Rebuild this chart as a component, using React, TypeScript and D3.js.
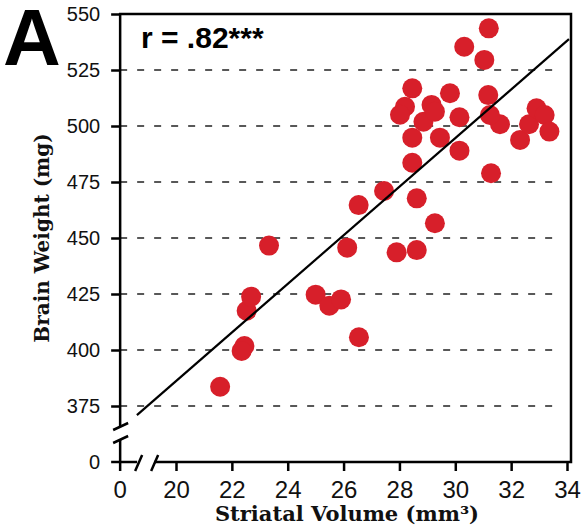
import * as d3 from "d3";
import { useRef, useEffect } from "react";

// striatal volume (mm3) and brain weight (mg), one entry per animal
const volume = [
  21.58, 22.45, 22.35, 22.53, 22.69, 23.33, 25.0, 25.49, 25.91, 26.55, 26.13,
  26.54, 27.45, 27.9, 28.62, 29.27, 28.62, 28.46, 30.15, 28.46, 29.45, 31.28,
  32.32, 32.64, 32.91, 33.2, 33.37, 31.6, 31.24, 30.15, 28.86, 29.15, 29.27,
  28.2, 28.02, 28.46, 29.81, 31.18, 31.2, 30.32, 31.04,
];
const weight = [
  383.6, 401.8, 399.6, 417.5, 423.8, 446.6, 424.7, 419.8, 422.6, 405.7, 445.7,
  464.7, 471.0, 443.6, 444.6, 456.6, 467.7, 483.6, 489.0, 494.8, 494.8, 478.9,
  493.8, 500.8, 507.9, 504.9, 497.5, 500.8, 504.9, 503.9, 501.9, 509.4, 506.4,
  508.6, 505.0, 516.8, 514.6, 513.8, 543.6, 535.4, 529.5,
];

const xTicks = [20, 22, 24, 26, 28, 30, 32, 34];
const yTicks = [375, 400, 425, 450, 475, 500, 525, 550];

// fitted line: weight = intercept + slope * volume
const regSlope = 10.85;
const regIntercept = 169.1;
const regRange = [18.6, 34.07];

const W = 581, H = 527;
const SANS = "'Liberation Sans', Arial, sans-serif";
const SERIF = "'DejaVu Serif', serif";

export default function App() {
  const ref = useRef<SVGSVGElement>(null);

  useEffect(() => {
    const svg = d3.select(ref.current);
    svg.selectAll("*").remove();

    const x = d3.scaleLinear().domain([20, 34]).range([176, 567]);
    const y = d3.scaleLinear().domain([375, 550]).range([406, 14]);

    // position of the broken-off zero on each axis (one step past the first tick)
    const x0 = x(20) - (x(22) - x(20));
    const y0 = y(375) + (y(375) - y(400));
    const right = 571;
    const top = y(550);
    const sw = 2.5;

    // dashed grid
    svg.append("g")
      .selectAll("line")
      .data(yTicks.slice(0, -1))
      .join("line")
      .attr("x1", x0).attr("x2", 557)
      .attr("y1", d => y(d)).attr("y2", d => y(d))
      .attr("stroke", "#222")
      .attr("stroke-width", 1.4)
      .attr("stroke-dasharray", "7,10");

    // axes (ticks + labels only, lines drawn below)
    const gy = svg.append("g")
      .attr("transform", `translate(${x0},0)`)
      .call(d3.axisLeft(y).tickValues(yTicks).tickSize(9).tickPadding(11).tickFormat(d3.format("d")));
    const gx = svg.append("g")
      .attr("transform", `translate(0,${y0})`)
      .call(d3.axisBottom(x).tickValues(xTicks).tickSize(9).tickPadding(10).tickFormat(d3.format("d")));
    [gy, gx].forEach(g => {
      g.select(".domain").remove();
      g.selectAll(".tick line").attr("stroke", "#000").attr("stroke-width", sw);
      g.selectAll(".tick text").attr("fill", "#111").attr("font-family", SANS);
    });
    gy.selectAll(".tick text").attr("font-size", 20);
    gx.selectAll(".tick text").attr("font-size", 24);

    // zero ticks past the breaks
    svg.append("line").attr("x1", x0 - 9).attr("x2", x0).attr("y1", y0).attr("y2", y0)
      .attr("stroke", "#000").attr("stroke-width", sw);
    svg.append("line").attr("x1", x0).attr("x2", x0).attr("y1", y0).attr("y2", y0 + 9)
      .attr("stroke", "#000").attr("stroke-width", sw);
    svg.append("text").attr("x", x0 - 20).attr("y", y0).attr("dy", "0.35em")
      .attr("text-anchor", "end").attr("font-family", SANS).attr("font-size", 20)
      .attr("fill", "#111").text("0");
    svg.append("text").attr("x", x0).attr("y", y0 + 19).attr("dy", "0.71em")
      .attr("text-anchor", "middle").attr("font-family", SANS).attr("font-size", 24)
      .attr("fill", "#111").text("0");

    // frame with axis breaks
    const path = d3.path();
    path.moveTo(x0, y0 - 35); path.lineTo(x0, top); path.lineTo(right, top); path.lineTo(right, y0);
    path.lineTo(x0 + 34, y0);
    path.moveTo(x0 + 17, y0); path.lineTo(x0, y0); path.lineTo(x0, y0 - 23);
    svg.append("path").attr("d", path.toString())
      .attr("fill", "none").attr("stroke", "#000").attr("stroke-width", sw)
      .attr("stroke-linejoin", "miter");

    const breaks = d3.path();
    breaks.moveTo(x0 - 7, y0 - 32); breaks.lineTo(x0 + 8, y0 - 39);
    breaks.moveTo(x0 - 7, y0 - 19); breaks.lineTo(x0 + 8, y0 - 26);
    breaks.moveTo(x0 + 15, y0 + 9); breaks.lineTo(x0 + 22, y0 - 7);
    breaks.moveTo(x0 + 31, y0 + 9); breaks.lineTo(x0 + 38, y0 - 7);
    svg.append("path").attr("d", breaks.toString())
      .attr("fill", "none").attr("stroke", "#000").attr("stroke-width", sw);

    // points
    const pts = volume.map((v, i) => ({ v, w: weight[i] }));
    svg.append("g")
      .selectAll("circle")
      .data(pts)
      .join("circle")
      .attr("cx", d => x(d.v))
      .attr("cy", d => y(d.w))
      .attr("r", 10)
      .attr("fill", "#d71f2a");

    // regression line
    svg.append("path")
      .datum(regRange)
      .attr("fill", "none")
      .attr("stroke", "#000")
      .attr("stroke-width", 2.2)
      .attr("d", d3.line<number>()
        .x(v => x(v))
        .y(v => y(regIntercept + regSlope * v)));

    // labels
    svg.append("text").attr("x", 3).attr("y", 65)
      .attr("font-family", SANS).attr("font-weight", "bold").attr("font-size", 80)
      .attr("fill", "#000").text("A");
    svg.append("text").attr("x", 141).attr("y", 48)
      .attr("font-family", SANS).attr("font-weight", "bold").attr("font-size", 30)
      .attr("fill", "#000").text("r = .82***");

    svg.append("text")
      .attr("transform", `translate(49,${(top + y0) / 2}) rotate(-90)`)
      .attr("text-anchor", "middle")
      .attr("font-family", SERIF).attr("font-weight", "bold").attr("font-size", 20)
      .attr("fill", "#111").text("Brain Weight (mg)");
    svg.append("text")
      .attr("x", 347).attr("y", 521)
      .attr("text-anchor", "middle")
      .attr("font-family", SERIF).attr("font-weight", "bold").attr("font-size", 21)
      .attr("fill", "#111").text("Striatal Volume (mm³)");
  }, []);

  return (
    <svg
      ref={ref}
      width={W}
      height={H}
      style={{ position: "absolute", left: 0, top: 0, background: "#fff" }}
    />
  );
}
